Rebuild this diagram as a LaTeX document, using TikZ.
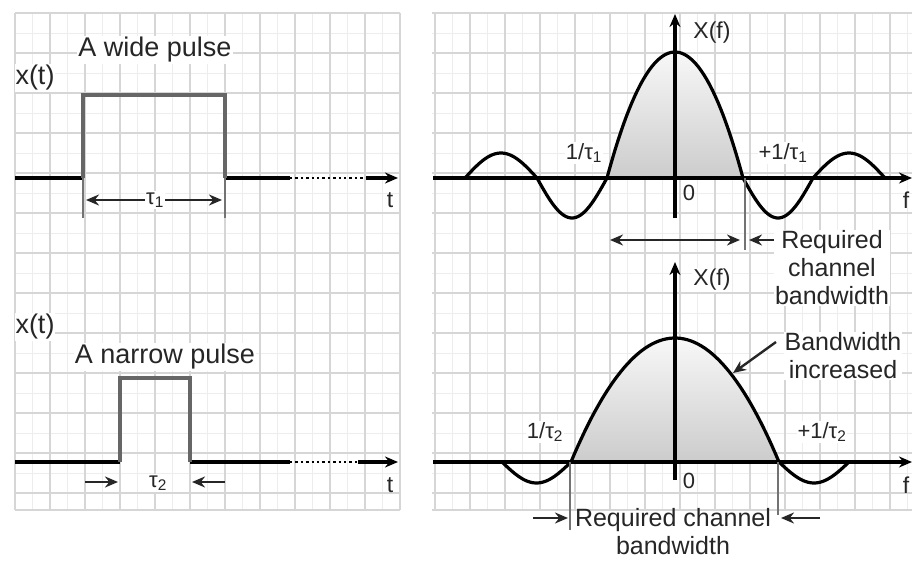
\documentclass[tikz,border=0pt]{standalone}
\usepackage{fontspec}
\setmainfont{Liberation Sans}
\usetikzlibrary{arrows.meta}
\begin{document}
\begin{tikzpicture}[x=1pt,y=-1pt,
  big/.style={font=\fontsize{27}{30}\selectfont, text=black!85, inner sep=1pt, fill=white},
  txt/.style={font=\fontsize{25}{28}\selectfont, text=black!85, inner sep=1pt, fill=white, align=center},
  mid/.style={font=\fontsize{23}{26}\selectfont, text=black!85, inner sep=1pt},
  sml/.style={font=\fontsize{22}{24}\selectfont, text=black!85, inner sep=1pt, fill=white},
  axis/.style={line width=3.4pt, black},
  pulse/.style={line width=4.4pt, black!60},
  thinl/.style={line width=1.2pt, black!55},
  arr/.style={-{Stealth[length=13pt,width=11pt]}},
  dimarr/.style={line width=2.4pt, black!85},
  curve/.style={line width=3.2pt, black},
  gmaj/.style={line width=1.3pt, black!16},
  gmin/.style={line width=0.7pt, black!7},
  lobe/.style={top color=black!3, bottom color=black!20},
]
\useasboundingbox (0,0) rectangle (914,562);
\fill[white] (0,0) rectangle (914,562);

% ---------- grids ----------
\foreach \x in {32.5,67.5,...,385} \draw[gmin] (\x,13) -- (\x,510);
\foreach \y in {33,73,...,500} \draw[gmin] (15,\y) -- (400,\y);
\foreach \x in {15,50,...,400} \draw[gmaj] (\x,13) -- (\x,510);
\foreach \y in {13,53,...,500} \draw[gmaj] (15,\y) -- (400,\y);
\draw[gmaj] (15,510) -- (400,510);

\foreach \x in {452.5,487.5,...,910} \draw[gmin] (\x,13) -- (\x,510);
\foreach \y in {33,73,...,500} \draw[gmin] (432,\y) -- (912,\y);
\foreach \x in {435,470,...,912} \draw[gmaj] (\x,13) -- (\x,510);
\foreach \y in {13,53,...,500} \draw[gmaj] (432,\y) -- (912,\y);
\draw[gmaj] (432,510) -- (912,510);

% ---------- left top: wide pulse ----------
\coordinate (L1a) at (15,178);
\coordinate (L1b) at (83,178);
\coordinate (L1c) at (83,95);
\coordinate (L1d) at (225,95);
\coordinate (L1e) at (225,178);
\coordinate (L1f) at (290,178);
\coordinate (L1g) at (366,178);
\coordinate (L1h) at (398,178);
\draw[axis] (L1a) -- (L1b);
\draw[axis] (L1e) -- (L1f);
\draw[axis, line width=2.6pt, dash pattern=on 2.4pt off 3pt] (L1f) -- (L1g);
\draw[axis, arr] (L1g) -- (L1h);
\draw[pulse] (L1b) -- (L1c) -- (L1d) -- (L1e);
\draw[thinl] (L1b) -- ++(0,40);
\draw[thinl] (L1e) -- ++(0,40);
\node[big] (wide) at (155,50) {A wide pulse};
\node[big] (x1) at (35,78) {x(t)};
\node[mid] (t1) at (390,200) {t};
\node[sml] (tau1) at (155,200) {τ\textsubscript{1}};
\coordinate (d1l) at (86,200);
\coordinate (d1r) at (222,200);
\draw[dimarr, arr] (tau1.west) -- (d1l);
\draw[dimarr, arr] (tau1.east) -- (d1r);

% ---------- left bottom: narrow pulse ----------
\coordinate (L2a) at (15,462);
\coordinate (L2b) at (120,462);
\coordinate (L2c) at (120,378);
\coordinate (L2d) at (190,378);
\coordinate (L2e) at (190,462);
\coordinate (L2f) at (290,462);
\coordinate (L2g) at (358,462);
\coordinate (L2h) at (398,462);
\draw[axis] (L2a) -- (L2b);
\draw[axis] (L2e) -- (L2f);
\draw[axis, line width=2.6pt, dash pattern=on 2.4pt off 3pt] (L2f) -- (L2g);
\draw[axis, arr] (L2g) -- (L2h);
\draw[pulse] (L2b) -- (L2c) -- (L2d) -- (L2e);
\node[big] (narrow) at (165,357) {A narrow pulse};
\node[big] (x2) at (35,327) {x(t)};
\node[mid] (t2) at (390,485) {t};
\node[sml] (tau2) at (158,483) {τ\textsubscript{2}};
\coordinate (n1a) at (85,482);
\coordinate (n1b) at (118,482);
\coordinate (n2a) at (225,482);
\coordinate (n2b) at (192,482);
\draw[dimarr, arr] (n1a) -- (n1b);
\draw[dimarr, arr] (n2a) -- (n2b);

% ---------- right top: spectrum of wide pulse ----------
\fill[lobe] plot[domain=-68:68, samples=50] ({675+\x},{178-126*(1-\x*\x/4624)}) -- cycle;
\coordinate (RTx0) at (433,178);
\coordinate (RTx1) at (912,178);
\coordinate (RTy0) at (675,218);
\coordinate (RTy1) at (675,14);
\draw[axis, arr] (RTx0) -- (RTx1);
\draw[axis, arr] (RTy0) -- (RTy1);
\draw[curve]
  plot[domain=-210:-138, samples=30] ({675+\x},{178-25*sin((-\x-138)/72*180)})
  -- plot[domain=-138:-68, samples=30] ({675+\x},{178+40*sin((-\x-68)/70*180)})
  -- plot[domain=-68:68, samples=50] ({675+\x},{178-126*(1-\x*\x/4624)})
  -- plot[domain=68:138, samples=30] ({675+\x},{178+40*sin((\x-68)/70*180)})
  -- plot[domain=138:210, samples=30] ({675+\x},{178-25*sin((\x-138)/72*180)});
\node[mid] (X1) at (712,33) {X(f)};
\node[mid] (f1) at (906,200) {f};
\node[sml, fill=none] (o1) at (689,193) {0};
\node[sml] (m1) at (584,153) {1/τ\textsubscript{1}};
\node[sml] (p1) at (783,153) {+1/τ\textsubscript{1}};
\coordinate (v1a) at (745,178);
\coordinate (v1b) at (745,250);
\draw[thinl] (v1a) -- (v1b);
\coordinate (b1l) at (610,240);
\coordinate (b1r) at (740,240);
\draw[dimarr, {Stealth[length=13pt,width=11pt]}-{Stealth[length=13pt,width=11pt]}] (b1l) -- (b1r);
\node[txt] (req1) at (832,268) {Required\\channel\\bandwidth};
\coordinate (b1t) at (774,240);
\coordinate (b1h) at (749,240);
\draw[dimarr, arr] (b1t) -- (b1h);

% ---------- right bottom: spectrum of narrow pulse ----------
\fill[lobe] plot[domain=-104:104, samples=60] ({675+\x},{462-124*(1-\x*\x/10816)}) -- cycle;
\coordinate (RBx0) at (433,462);
\coordinate (RBx1) at (912,462);
\coordinate (RBy0) at (675,480);
\coordinate (RBy1) at (675,262);
\draw[axis, arr] (RBx0) -- (RBx1);
\draw[axis, arr] (RBy0) -- (RBy1);
\draw[curve]
  plot[domain=-173:-104, samples=30] ({675+\x},{462+21*sin((-\x-104)/69*180)})
  -- plot[domain=-104:104, samples=60] ({675+\x},{462-124*(1-\x*\x/10816)})
  -- plot[domain=104:174, samples=30] ({675+\x},{462+21*sin((\x-104)/70*180)});
\node[mid, fill=white] (X2) at (712,280) {X(f)};
\node[mid] (f2) at (906,485) {f};
\node[sml, fill=none] (o2) at (689,481) {0};
\node[sml] (m2) at (545,432) {1/τ\textsubscript{2}};
\node[sml] (p2) at (822,432) {+1/τ\textsubscript{2}};
\coordinate (v2a) at (570,462);
\coordinate (v2b) at (570,530);
\coordinate (v3a) at (778,462);
\coordinate (v3b) at (778,515);
\draw[thinl] (v2a) -- (v2b);
\draw[thinl] (v3a) -- (v3b);
\node[txt, fill=none] (req2) at (673,532) {Required channel\\bandwidth};
\coordinate (r2a) at (533,518);
\coordinate (r2b) at (568,518);
\coordinate (r3a) at (820,518);
\coordinate (r3b) at (781,518);
\draw[dimarr, arr] (r2a) -- (r2b);
\draw[dimarr, arr] (r3a) -- (r3b);
\node[txt] (inc) at (843,356) {Bandwidth\\increased};
\coordinate (incS) at (776,342);
\coordinate (incE) at (733,373);
\draw[dimarr, arr] (incS) -- (incE);
\end{tikzpicture}
\end{document}
